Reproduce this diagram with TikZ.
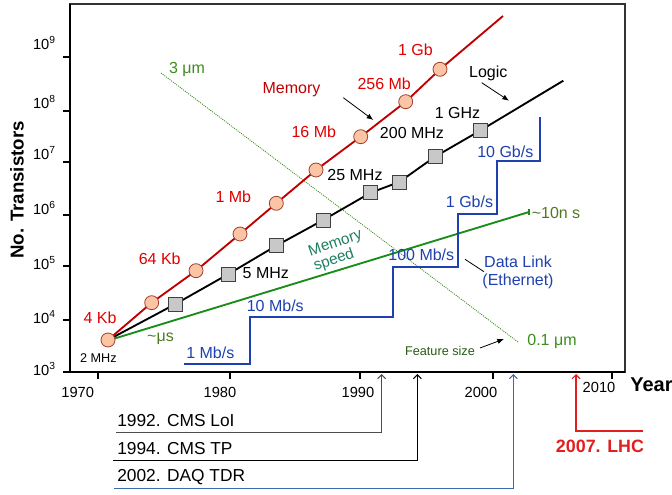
\documentclass[tikz,border=0pt]{standalone}
\usepackage{fontspec}
\setmainfont{Liberation Sans}
\usetikzlibrary{arrows.meta}

\definecolor{memred}{RGB}{192,0,0}
\definecolor{labred}{RGB}{224,0,0}
\definecolor{dotfill}{RGB}{251,196,164}
\definecolor{dotline}{RGB}{160,64,42}
\definecolor{sqfill}{RGB}{200,200,200}
\definecolor{speedgreen}{RGB}{26,140,26}
\definecolor{tildegreen}{RGB}{80,120,32}
\definecolor{featgreen}{RGB}{60,140,30}
\definecolor{tealgreen}{RGB}{30,128,96}
\definecolor{linkblue}{RGB}{30,64,176}
\definecolor{tdrblue}{RGB}{58,106,176}
\definecolor{lhcred}{RGB}{224,32,32}

\tikzset{
  lab/.style={inner sep=0pt, font=\fontsize{12}{14}\selectfont},
  memlab/.style={lab, text=labred},
  logiclab/.style={lab, text=black},
  linklab/.style={lab, text=linkblue},
  ticklab/.style={inner sep=0pt, font=\fontsize{11}{13}\selectfont},
  smalllab/.style={inner sep=0pt, font=\fontsize{9.5}{11}\selectfont},
  mslab/.style={inner sep=0pt, anchor=west, font=\fontsize{13}{15}\selectfont},
  titlelab/.style={inner sep=0pt, font=\bfseries\fontsize{14}{16}\selectfont},
  memdot/.style={draw=dotline, fill=dotfill, line width=0.6pt},
  logicsq/.style={draw=black!75, fill=sqfill, line width=0.6pt},
  msline/.style={line width=0.8pt, -{Straight Barb[length=3pt,width=6pt]}},
  pointer/.style={line width=0.6pt, -{Latex[length=5pt,width=4pt]}}
}

\begin{document}
\begin{tikzpicture}[x=0.75pt, y=-0.75pt]
\useasboundingbox (0,0) rectangle (672,495);

% frame and axes
\draw[line width=0.8pt, black!80] (70,4) rectangle (625,372);
\draw[line width=1.6pt] (70,4) -- (70,372) -- (625,372);

\foreach \y/\ly/\e in {57/43/9, 111/102/8, 162/153/7, 215/208/6, 266/263/5, 320/317/4, 372/369/3}
{
  \draw[line width=1.2pt] (63,\y) -- (70,\y);
  \node[ticklab, anchor=east] (e\e) at (56,\ly) {10\textsuperscript{\e}};
}
\foreach \x/\lx/\ly/\yr in {97.7/77.7/392/1970, 230/220/392/1980, 360/358/392/1990, 492.7/481/392/2000, 612/599/387/2010}
{
  \draw[line width=1.2pt] (\x,372) -- (\x,379);
  \node[ticklab] (y\yr) at (\lx,\ly) {\yr};
}
\node[titlelab, rotate=90] (ytitle) at (17,190) {No. Transistors};
\node[titlelab, anchor=west, font=\bfseries\fontsize{15}{17}\selectfont] (xtitle) at (630,385) {Year};

% feature size
\draw[featgreen, line width=0.6pt, dash pattern=on 0.8pt off 0.8pt] (161,73) -- (518,342);
\node[lab, text=featgreen] (f3) at (187,69) {3 μm};
\node[lab, text=featgreen] (f01) at (552,341) {0.1 μm};
\node[smalllab, text=featgreen!65!black] (fsize) at (440,351) {Feature size};
\coordinate (fs1) at (480,348);
\coordinate (fs2) at (504,339);
\draw[pointer] (fs1) -- (fs2);

% memory speed
\draw[speedgreen, line width=1.4pt] (113,339) -- (529,212);
\draw[speedgreen, line width=0.8pt] (529,209) -- (529,215);
\node[lab, text=tildegreen] (us) at (160.5,339) {\textasciitilde μs};
\node[lab, text=tildegreen] (ns) at (556,213) {\textasciitilde 10n s};
\node[lab, text=tealgreen, align=left, rotate=19, font=\fontsize{11.5}{10}\selectfont] (mspeed) at (338,251) {Memory\\speed};

% data link
\draw[linkblue, line width=1.8pt] (184,364) -- (250,364) -- (250,317) -- (393,317) -- (393,267)
  -- (458,267) -- (458,214) -- (497,214) -- (497,161) -- (540,161) -- (540,117);
\node[linklab] (l1) at (210.3,353) {1 Mb/s};
\node[linklab] (l10) at (275.3,306) {10 Mb/s};
\node[linklab] (l100) at (421.3,255) {100 Mb/s};
\node[linklab] (g1) at (469.5,201.7) {1 Gb/s};
\node[linklab] (g10) at (505.3,151.7) {10 Gb/s};
\node[linklab, align=center, font=\fontsize{12}{13.5}\selectfont] (dlink) at (518,272) {Data Link\\(Ethernet)};
\coordinate (dl1) at (484,271.7);
\coordinate (dl2) at (465,259.3);
\draw[line width=0.6pt] (dl1) -- (dl2);

% logic
\draw[line width=1.4pt] (108,340) -- (175.5,304) -- (228,274.3) -- (276.3,245.7) -- (323.3,220)
  -- (370.7,192.7) -- (399.3,182) -- (435,156.7) -- (480,130.7) -- (563.3,80.7);
\foreach \x/\y in {175.5/304, 228/274.3, 276.3/245.7, 323.3/220, 370.7/192.7, 399.3/182, 435/156.7, 480/130.7}
  \filldraw[logicsq] (\x-7,\y-7) rectangle (\x+7,\y+7);
\node[smalllab] (m2) at (98.3,358.3) {2 MHz};
\node[logiclab] (m5) at (265.8,272.7) {5 MHz};
\node[logiclab] (m25) at (355,175) {25 MHz};
\node[logiclab] (m200) at (412,133.3) {200 MHz};
\node[logiclab] (ghz) at (457.5,113.3) {1 GHz};
\node[logiclab] (logic) at (488.3,73.3) {Logic};
\coordinate (lg1) at (481.7,82.7);
\coordinate (lg2) at (509,100.7);
\draw[pointer] (lg1) -- (lg2);

% memory
\draw[memred, line width=1.4pt] (108,340) -- (151.7,302.7) -- (196,270.7) -- (240,234) -- (276.3,203.3)
  -- (316,170) -- (360.7,136.7) -- (405.7,101.7) -- (440,69.3) -- (503,16);
\foreach \x/\y in {108/340, 151.7/302.7, 196/270.7, 240/234, 276.3/203.3, 316/170, 360.7/136.7, 405.7/101.7, 440/69.3}
  \filldraw[memdot] (\x,\y) circle[radius=5.25pt];
\node[memlab] (k4) at (100,317.7) {4 Kb};
\node[memlab] (k64) at (159.7,258.3) {64 Kb};
\node[memlab] (mb1) at (233.3,196.7) {1 Mb};
\node[memlab] (mb16) at (313.8,131.7) {16 Mb};
\node[memlab] (mb256) at (384.2,83.3) {256 Mb};
\node[memlab] (gb1) at (415.5,49.3) {1 Gb};
\node[lab, text=memred] (memory) at (291.5,90) {Memory};
\coordinate (me1) at (343.3,97.7);
\coordinate (me2) at (373.3,120);
\draw[pointer] (me1) -- (me2);

% milestones
\node[mslab] (cms92) at (117,421) {1992. CMS LoI};
\node[mslab] (cms94) at (117,448.3) {1994. CMS TP};
\node[mslab] (tdr02) at (117,476.7) {2002. DAQ TDR};
\node[inner sep=0pt, text=lhcred, font=\bfseries\fontsize{13.4}{15}\selectfont] (lhc) at (600,446.7) {2007. LHC};
\coordinate (s92) at (116,432.7);   \coordinate (a92) at (381.7,374);
\coordinate (s94) at (113.3,460.7); \coordinate (a94) at (417.3,374);
\coordinate (s02) at (114.3,488.3); \coordinate (a02) at (513.3,374);
\coordinate (s07) at (643.3,431);   \coordinate (a07) at (576,374);
\draw[msline, black!70] (s92) -| (a92);
\draw[msline, black] (s94) -| (a94);
\draw[msline, tdrblue] (s02) -| (a02);
\draw[msline, lhcred] (s07) -| (a07);
\end{tikzpicture}
\end{document}
